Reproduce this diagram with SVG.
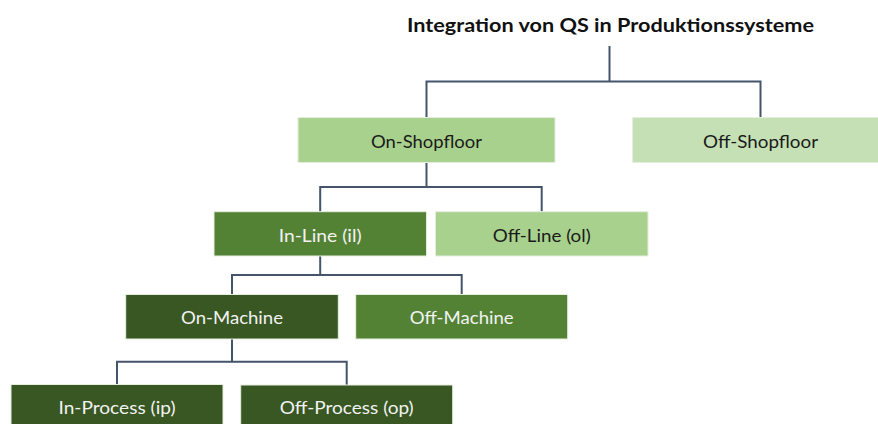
<svg xmlns="http://www.w3.org/2000/svg" width="878" height="424" viewBox="0 0 878 424">
  <style>
    .box { stroke: #e6eedf; stroke-width: 1; }
    .g1 { fill: #C5E0B4; }
    .g2 { fill: #A9D18E; }
    .g3 { fill: #548235; }
    .g4 { fill: #385723; }
    .lbl { font-family: Lato, "Liberation Sans", Arial, sans-serif; font-size: 18px; text-anchor: middle; }
    .dark { fill: #1a1a1a; }
    .light { fill: #f2f2f2; }
    .title { font-family: Lato, "Liberation Sans", Arial, sans-serif; font-size: 19.5px; font-weight: bold; fill: #111; text-anchor: middle; }
    .conn { fill: none; stroke: #44546A; stroke-width: 2; }
  </style>
  <rect width="878" height="424" fill="#ffffff"/>

  <text class="title" x="610.5" y="31.7" textLength="407" lengthAdjust="spacingAndGlyphs">Integration von QS in Produktionssysteme</text>

  <g id="connectors">
    <path class="conn" d="M609.5,46 V81.5"/>
    <path class="conn" d="M426.5,117.5 V81.5 H760.5 V117.5"/>
    <path class="conn" d="M426.5,162.5 V187"/>
    <path class="conn" d="M320.2,211.7 V187 H541.7 V211.7"/>
    <path class="conn" d="M320.2,256 V275"/>
    <path class="conn" d="M232,294.5 V275 H461.7 V294.5"/>
    <path class="conn" d="M232,339 V361.7"/>
    <path class="conn" d="M117,384.5 V361.7 H346.7 V385"/>
  </g>

  <g id="on-shopfloor">
    <rect class="box g2" x="298" y="117.5" width="257" height="45"/>
    <text class="lbl dark" x="426.5" y="147.5" textLength="111" lengthAdjust="spacingAndGlyphs">On-Shopfloor</text>
  </g>
  <g id="off-shopfloor">
    <rect class="box g1" x="632.5" y="117.5" width="257" height="45"/>
    <text class="lbl dark" x="760.5" y="147.5" textLength="115" lengthAdjust="spacingAndGlyphs">Off-Shopfloor</text>
  </g>

  <g id="in-line">
    <rect class="box g3" x="214" y="211.7" width="212.5" height="44.3"/>
    <text class="lbl light" x="320.2" y="241.7" textLength="83" lengthAdjust="spacingAndGlyphs">In-Line (il)</text>
  </g>
  <g id="off-line">
    <rect class="box g2" x="435.5" y="211.7" width="212.5" height="44.3"/>
    <text class="lbl dark" x="541.7" y="241.7" textLength="98" lengthAdjust="spacingAndGlyphs">Off-Line (ol)</text>
  </g>

  <g id="on-machine">
    <rect class="box g4" x="125.7" y="294.5" width="212.6" height="44.5"/>
    <text class="lbl light" x="232" y="324.3" textLength="102" lengthAdjust="spacingAndGlyphs">On-Machine</text>
  </g>
  <g id="off-machine">
    <rect class="box g3" x="355.7" y="294.5" width="212" height="44.5"/>
    <text class="lbl light" x="461.7" y="324.3" textLength="104" lengthAdjust="spacingAndGlyphs">Off-Machine</text>
  </g>

  <g id="in-process">
    <rect class="box g4" x="11" y="384.5" width="212" height="44.5"/>
    <text class="lbl light" x="117" y="413.8" textLength="117" lengthAdjust="spacingAndGlyphs">In-Process (ip)</text>
  </g>
  <g id="off-process">
    <rect class="box g4" x="240.7" y="385" width="212" height="44.5"/>
    <text class="lbl light" x="346.7" y="414.3" textLength="134" lengthAdjust="spacingAndGlyphs">Off-Process (op)</text>
  </g>
</svg>
